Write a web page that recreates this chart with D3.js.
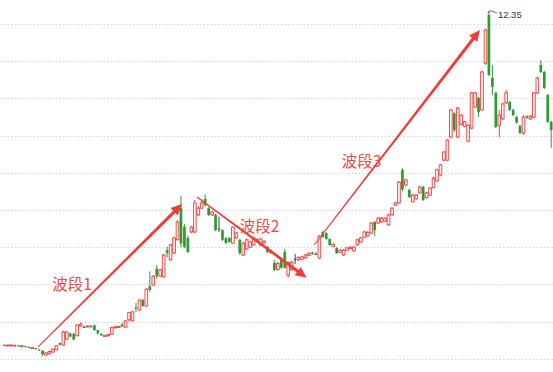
<!DOCTYPE html>
<html>
<head>
<meta charset="utf-8">
<script src="https://cdn.jsdelivr.net/npm/d3@7"></script>
<style>
  html, body { margin: 0; padding: 0; background: #fff; }
  svg { display: block; }
</style>
</head>
<body>
<svg id="chart" width="553" height="372"></svg>
<script>
// daily candles, prices
const opens = [3.37,3.36,3.36,3.36,3.36,3.33,3.34,3.32,3.29,3.29,3.25,3.22,3.10,3.13,3.18,3.24,3.42,3.37,3.53,3.68,
  3.67,3.62,3.88,3.86,3.86,3.89,3.90,3.77,3.67,3.60,3.62,3.66,3.83,3.84,3.92,3.85,4.05,4.02,4.38,4.31,
  4.58,4.42,4.95,4.98,5.42,5.22,5.20,5.92,5.66,5.84,6.20,7.05,6.55,6.25,6.41,6.41,6.87,7.05,7.30,7.05,
  6.87,6.87,6.50,6.46,6.25,6.25,6.11,6.25,6.20,5.79,5.95,6.00,6.06,6.22,6.06,6.11,6.01,5.92,5.58,5.40,
  5.66,5.87,5.25,5.39,5.69,5.66,5.68,5.71,5.78,5.86,5.82,5.71,6.41,6.38,6.22,6.02,5.98,5.86,5.79,5.92,
  5.96,5.90,6.06,6.14,6.27,6.30,6.38,6.68,6.65,6.68,6.70,6.60,6.87,7.13,7.19,8.08,7.67,7.54,7.22,7.30,
  7.46,7.62,7.33,7.40,7.60,7.78,7.94,8.34,8.34,8.96,9.60,8.96,9.30,9.25,8.85,9.20,9.77,10.01,9.69,10.95,
  12.24,10.55,10.15,9.28,9.45,9.88,9.90,9.69,9.50,9.26,9.07,9.52,9.45,9.50,10.15,10.90,10.71,10.09,9.37];
const highs = [3.39,3.38,3.38,3.38,3.37,3.36,3.35,3.33,3.31,3.30,3.26,3.23,3.18,3.22,3.28,3.37,3.44,3.76,3.74,3.70,
  3.69,3.93,3.98,3.89,3.90,3.91,3.92,3.78,3.68,3.64,3.66,3.86,3.88,3.89,3.97,4.04,4.26,4.28,4.50,4.60,
  4.62,4.90,5.35,5.25,5.52,5.42,5.82,6.01,6.09,6.28,6.72,7.38,6.62,6.30,6.58,7.27,7.10,7.30,7.42,7.08,
  6.98,6.90,6.82,6.48,6.27,6.27,6.56,6.41,6.22,6.14,6.23,6.17,6.28,6.24,6.25,6.19,6.03,5.94,5.66,5.60,
  5.72,5.95,5.61,5.63,5.82,5.75,5.77,5.82,5.87,5.88,5.86,6.33,6.44,6.40,6.24,6.11,6.00,5.95,5.95,6.01,
  6.03,6.03,6.23,6.28,6.44,6.43,6.68,6.70,6.81,6.81,6.81,6.90,7.08,7.22,7.78,8.12,7.84,7.57,7.43,7.43,
  7.65,7.65,7.49,7.62,7.89,8.11,8.24,8.59,8.91,9.72,9.63,9.77,9.58,9.40,9.31,10.18,10.18,10.04,10.74,11.87,
  12.35,10.90,10.18,9.69,9.88,10.23,9.93,9.72,9.53,9.29,9.55,9.55,9.55,10.18,10.58,11.03,10.74,10.12,9.40];
const lows = [3.35,3.35,3.35,3.34,3.33,3.32,3.31,3.29,3.28,3.25,3.22,3.07,3.08,3.12,3.17,3.23,3.36,3.35,3.51,3.58,
  3.50,3.60,3.86,3.84,3.85,3.84,3.76,3.66,3.61,3.59,3.60,3.65,3.82,3.83,3.86,3.84,3.99,4.00,4.26,4.29,
  4.40,4.40,4.80,4.96,5.15,5.20,5.18,5.72,5.64,5.82,6.18,6.00,5.98,5.84,6.38,6.38,6.84,7.02,7.10,6.84,
  6.84,6.43,6.41,6.17,6.09,6.12,6.09,6.22,5.80,5.76,5.92,5.97,6.04,6.12,6.04,6.09,5.85,5.82,5.36,5.37,
  5.42,5.42,5.18,5.36,5.55,5.63,5.65,5.69,5.76,5.80,5.79,5.68,6.25,6.20,6.04,6.00,5.82,5.84,5.77,5.90,
  5.94,5.88,6.04,6.12,6.25,6.28,6.36,6.30,6.62,6.66,6.68,6.58,6.85,7.11,7.17,7.50,7.64,7.32,7.20,7.28,
  7.44,7.24,7.31,7.38,7.58,7.76,7.92,8.31,8.31,8.93,9.10,8.93,9.27,9.22,8.82,9.17,9.74,9.50,9.66,10.90,
  10.60,10.09,9.20,8.96,9.42,9.85,9.66,9.52,9.32,9.04,9.02,9.45,9.42,9.47,10.12,10.68,10.25,9.34,8.66];
const closes = [3.36,3.37,3.37,3.36,3.34,3.35,3.32,3.30,3.30,3.26,3.24,3.12,3.16,3.20,3.26,3.35,3.38,3.72,3.72,3.60,
  3.52,3.91,3.92,3.86,3.88,3.85,3.77,3.68,3.63,3.63,3.65,3.84,3.86,3.87,3.87,4.02,4.24,4.26,4.35,4.58,
  4.42,4.87,4.85,5.22,5.22,5.39,5.79,5.84,6.06,6.25,6.68,6.10,6.01,5.87,6.54,7.19,7.05,7.19,7.13,6.87,
  6.95,6.46,6.50,6.20,6.11,6.14,6.54,6.38,5.84,6.11,6.20,6.14,6.25,6.14,6.22,6.16,5.87,5.84,5.39,5.56,
  5.45,5.45,5.58,5.60,5.69,5.72,5.74,5.79,5.84,5.82,5.82,6.30,6.27,6.22,6.06,6.08,5.84,5.92,5.92,5.98,
  6.00,6.00,6.20,6.25,6.41,6.40,6.65,6.46,6.78,6.78,6.78,6.87,7.05,7.19,7.75,7.55,7.81,7.35,7.40,7.40,
  7.62,7.27,7.46,7.59,7.86,8.08,8.21,8.56,8.88,9.69,9.15,9.74,9.55,9.37,9.28,10.15,10.15,9.63,10.71,11.84,
  10.63,10.31,9.23,9.55,9.85,10.15,9.69,9.55,9.35,9.07,9.50,9.48,9.52,10.15,10.55,10.71,10.28,9.37,9.15];

const gridPrices = [3, 4, 5, 6, 7, 8, 9, 10, 11, 12];

// wave annotations: [candle index, price]
const waveNames = ["波段1", "波段2", "波段3"];
const waveFrom = [[9.7, 3.32], [55.6, 7.35], [89.5, 6.06]];
const waveTo = [[51.3, 7.16], [87.3, 5.18], [137.4, 11.84]];
const waveLabelAt = [[19.5, 5.04], [73.7, 6.60], [103.2, 8.34]];

const width = 553, height = 372;
const svg = d3.select("#chart");

const n = closes.length;
const x = d3.scaleBand().domain(d3.range(n)).range([2.77, 2.77 + 3.46 * n]).padding(0);
const y = d3.scaleLinear().domain([3, 12]).range([358.8, 24]);
const cx = i => x(i) + x.bandwidth() / 2;
const xi = v => x(0) + x.bandwidth() / 2 + v * x.step();

// dotted grid
svg.append("g")
  .selectAll("line")
  .data(gridPrices)
  .join("line")
  .attr("x1", 0).attr("x2", width)
  .attr("y1", d => Math.round(y(d)) + 0.5)
  .attr("y2", d => Math.round(y(d)) + 0.5)
  .attr("stroke", "#d2d2d2")
  .attr("stroke-width", 1)
  .attr("stroke-dasharray", "1.5,2.2");

const candles = d3.range(n).map(i => ({
  i, o: opens[i], h: highs[i], l: lows[i], c: closes[i]
}));
const colorOf = d => d.c > d.o ? "#f23d3d" : (d.c < d.o ? "#2e9a34" : "#444");

const g = svg.append("g");
g.selectAll("line.wick")
  .data(candles)
  .join("line")
  .attr("class", "wick")
  .attr("x1", d => cx(d.i)).attr("x2", d => cx(d.i))
  .attr("y1", d => y(d.h)).attr("y2", d => y(d.l))
  .attr("stroke", colorOf)
  .attr("stroke-width", 1);

const bw = 2.7;
g.selectAll("rect.body")
  .data(candles)
  .join("rect")
  .attr("class", "body")
  .attr("x", d => cx(d.i) - bw / 2)
  .attr("width", bw)
  .attr("y", d => y(Math.max(d.o, d.c)))
  .attr("height", d => Math.max(1, Math.abs(y(d.o) - y(d.c))))
  .attr("fill", d => d.c > d.o ? "#fff0f0" : colorOf(d))
  .attr("stroke", d => d.c > d.o ? colorOf(d) : "none")
  .attr("stroke-width", 0.9);

// tapered arrows
const arrowColor = "#f23c3c";
const arrows = svg.append("g");
waveFrom.forEach((f, k) => {
  const x0 = xi(f[0]), y0 = y(f[1]);
  const x1 = xi(waveTo[k][0]), y1 = y(waveTo[k][1]);
  const dx = x1 - x0, dy = y1 - y0, len = Math.hypot(dx, dy);
  const ux = dx / len, uy = dy / len, px = -uy, py = ux;
  const head = 11, hw = 5.2;
  const bx = x1 - ux * head, by = y1 - uy * head;
  const w0 = 0.55, w1 = 1.6;
  const pts = [
    [x0 + px * w0, y0 + py * w0],
    [bx + px * w1, by + py * w1],
    [bx + px * hw, by + py * hw],
    [x1, y1],
    [bx - px * hw, by - py * hw],
    [bx - px * w1, by - py * w1],
    [x0 - px * w0, y0 - py * w0]
  ];
  arrows.append("path")
    .attr("d", d3.line()(pts) + "Z")
    .attr("fill", arrowColor);
});

svg.append("g")
  .selectAll("text")
  .data(waveNames)
  .join("text")
  .attr("x", (d, k) => xi(waveLabelAt[k][0]))
  .attr("y", (d, k) => y(waveLabelAt[k][1]))
  .attr("text-anchor", "middle")
  .attr("dominant-baseline", "central")
  .attr("font-family", "'Noto Sans CJK SC', 'Noto Sans', sans-serif")
  .attr("font-size", 15.5)
  .attr("fill", "#f04848")
  .text(d => d);

// max price marker
const iMax = d3.maxIndex(highs);
const mx = cx(iMax), my = y(highs[iMax]);
svg.append("path")
  .attr("d", `M${mx - 1},${my + 2} Q${mx},${my - 1} ${mx + 3},${my} L${mx + 8},${my + 2}`)
  .attr("fill", "none")
  .attr("stroke", "#555")
  .attr("stroke-width", 0.9);
svg.append("text")
  .attr("x", mx + 9)
  .attr("y", my + 4)
  .attr("dominant-baseline", "central")
  .attr("font-family", "'Liberation Sans', Arial, sans-serif")
  .attr("font-size", 9.5)
  .attr("fill", "#333")
  .text(d3.format(".2f")(highs[iMax]));
</script>
</body>
</html>
